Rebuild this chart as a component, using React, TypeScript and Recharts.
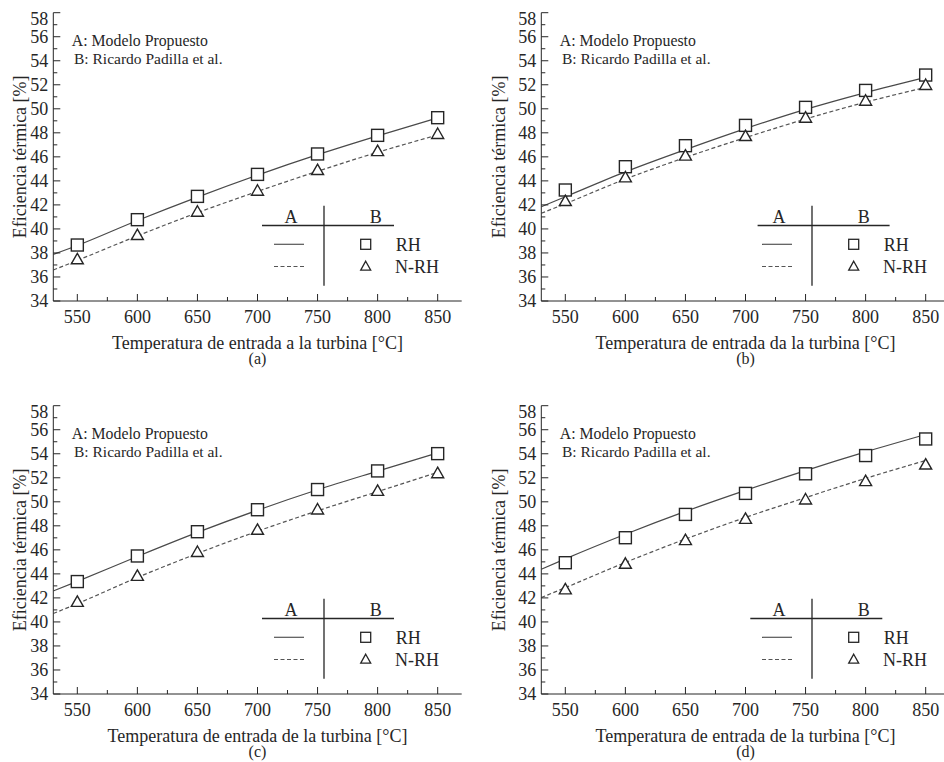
import React from 'react';
import { ComposedChart, Line, Scatter, XAxis, YAxis } from 'recharts';

// measured points (B: Ricardo Padilla et al.)
const temps = [550, 600, 650, 700, 750, 800, 850];
// model curves (A: Modelo Propuesto) start at the left edge of the plot
const curveTemps = [530, 550, 600, 650, 700, 750, 800, 850];

const xTicks = [550, 575, 600, 625, 650, 675, 700, 725, 750, 775, 800, 825, 850];
const xMajor = [550, 600, 650, 700, 750, 800, 850];
const yTicks = [34, 35, 36, 37, 38, 39, 40, 41, 42, 43, 44, 45, 46, 47, 48, 49, 50, 51, 52, 53, 54, 55, 56, 57, 58];
const yMajor = [34, 36, 38, 40, 42, 44, 46, 48, 50, 52, 54, 56, 58];

// (a)
const rhA = [38.66, 40.77, 42.71, 44.54, 46.24, 47.79, 49.26];
const nrhA = [37.47, 39.49, 41.43, 43.18, 44.9, 46.48, 47.9];
const modelRhA = [37.88, 38.62, 40.7, 42.65, 44.48, 46.18, 47.75, 49.25];
const modelNrhA = [36.58, 37.38, 39.42, 41.35, 43.12, 44.8, 46.38, 47.82];

// (b)
const rhB = [43.24, 45.18, 46.93, 48.62, 50.12, 51.53, 52.81];
const nrhB = [42.32, 44.29, 46.1, 47.73, 49.26, 50.67, 51.98];
const modelRhB = [41.85, 42.68, 44.75, 46.6, 48.35, 49.95, 51.35, 52.62];
const modelNrhB = [41.3, 42.1, 44.15, 45.95, 47.6, 49.15, 50.55, 51.78];

// (c)
const rhC = [43.36, 45.49, 47.51, 49.34, 51.02, 52.57, 54.01];
const nrhC = [41.67, 43.83, 45.82, 47.67, 49.36, 50.91, 52.38];
const modelRhC = [42.58, 43.38, 45.45, 47.45, 49.3, 51.0, 52.55, 54.07];
const modelNrhC = [40.7, 41.52, 43.7, 45.7, 47.55, 49.25, 50.85, 52.45];

// (d)
const rhD = [44.93, 47.01, 48.95, 50.7, 52.33, 53.85, 55.23];
const nrhD = [42.71, 44.84, 46.81, 48.58, 50.19, 51.72, 53.1];
const modelRhD = [44.38, 45.25, 47.3, 49.2, 50.95, 52.6, 54.15, 55.6];
const modelNrhD = [42.03, 42.85, 44.95, 46.9, 48.7, 50.35, 51.95, 53.44];

const xTitles = [
  'Temperatura de entrada a la turbina [°C]',
  'Temperatura de entrada da la turbina [°C]',
  'Temperatura de entrada de la turbina [°C]',
  'Temperatura de entrada de la turbina [°C]',
];
const tags = ['(a)', '(b)', '(c)', '(d)'];

const INK = '#262626';
const BOX_W = 470;
const BOX_H = 390;
const PLOT_L = 53.3;
const PLOT_T = 12.7;
const PLOT_W = 408.4;
const PLOT_H = 288.3;

const pairs = (xs: number[], ys: number[]) => xs.map((t, i) => ({ t, v: ys[i] }));

function BottomTick(props: any) {
  const { x, y, payload } = props;
  const major = xMajor.includes(payload.value);
  return (
    <g>
      <line x1={x} y1={y} x2={x} y2={y - (major ? 7 : 4)} stroke={INK} />
      {major && (
        <text x={x} y={y + 22} textAnchor="middle" fontSize={18} fill={INK}>
          {payload.value}
        </text>
      )}
    </g>
  );
}

function TopTick(props: any) {
  const { x, y, payload } = props;
  const major = xMajor.includes(payload.value);
  return <line x1={x} y1={y} x2={x} y2={y + (major ? 7 : 4)} stroke={INK} />;
}

function LeftTick(props: any) {
  const { x, y, payload } = props;
  const major = yMajor.includes(payload.value);
  // the top label is pushed down so it stays inside the figure
  const shift = payload.value === 58 ? 6 : 0;
  return (
    <g>
      <line x1={x} y1={y} x2={x + (major ? 7 : 4)} y2={y} stroke={INK} />
      {major && (
        <text x={x - 5} y={y + 6 + shift} textAnchor="end" fontSize={18} fill={INK}>
          {payload.value}
        </text>
      )}
    </g>
  );
}

function RightTick(props: any) {
  const { x, y, payload } = props;
  const major = yMajor.includes(payload.value);
  return <line x1={x} y1={y} x2={x - (major ? 7 : 4)} y2={y} stroke={INK} />;
}

function SquareMark(props: any) {
  const { cx, cy } = props;
  return <rect x={cx - 6} y={cy - 6} width={12} height={12} fill="#fff" stroke={INK} strokeWidth={1.4} />;
}

function TriangleMark(props: any) {
  const { cx, cy } = props;
  return (
    <path
      d={`M${cx},${cy - 6} L${cx + 6},${cy + 4.5} L${cx - 6},${cy + 4.5} Z`}
      fill="#fff"
      stroke={INK}
      strokeWidth={1.4}
    />
  );
}

type PanelProps = {
  left: number;
  top: number;
  rh: number[];
  nrh: number[];
  modelRh: number[];
  modelNrh: number[];
  xTitle: string;
  tag: string;
  hLineStart: number;
  yTitleDx: number;
};

function Panel({ left, top, rh, nrh, modelRh, modelNrh, xTitle, tag, hLineStart, yTitleDx }: PanelProps) {
  const L = PLOT_L;
  const T = PLOT_T;
  const B = PLOT_T + PLOT_H;
  return (
    <div style={{ position: 'absolute', left, top, width: BOX_W, height: BOX_H }}>
      <ComposedChart
        width={BOX_W}
        height={BOX_H}
        margin={{ top: PLOT_T, right: BOX_W - PLOT_L - PLOT_W, left: 0, bottom: BOX_H - B - 30 }}
      >
        <XAxis
          type="number"
          dataKey="t"
          domain={[530, 870]}
          ticks={xTicks}
          interval={0}
          allowDataOverflow
          height={30}
          tickSize={0}
          tickMargin={0}
          tickLine={false}
          axisLine={{ stroke: INK }}
          tick={<BottomTick />}
        />
        <XAxis
          xAxisId="top"
          orientation="top"
          type="number"
          dataKey="t"
          domain={[530, 870]}
          ticks={xTicks}
          interval={0}
          allowDataOverflow
          height={0}
          tickSize={0}
          tickMargin={0}
          tickLine={false}
          axisLine={{ stroke: INK }}
          tick={<TopTick />}
        />
        <YAxis
          type="number"
          domain={[34, 58]}
          ticks={yTicks}
          interval={0}
          allowDataOverflow
          width={PLOT_L}
          tickSize={0}
          tickMargin={0}
          tickLine={false}
          axisLine={{ stroke: INK }}
          tick={<LeftTick />}
        />
        <YAxis
          yAxisId="right"
          orientation="right"
          type="number"
          domain={[34, 58]}
          ticks={yTicks}
          interval={0}
          allowDataOverflow
          width={0}
          tickSize={0}
          tickMargin={0}
          tickLine={false}
          axisLine={{ stroke: INK }}
          tick={<RightTick />}
        />
        <Line
          data={pairs(curveTemps, modelRh)}
          dataKey="v"
          type="monotone"
          stroke="#4a4a4a"
          strokeWidth={1.2}
          dot={false}
          isAnimationActive={false}
        />
        <Line
          data={pairs(curveTemps, modelNrh)}
          dataKey="v"
          type="monotone"
          stroke="#555"
          strokeWidth={1.2}
          strokeDasharray="4 2.5"
          dot={false}
          isAnimationActive={false}
        />
        <Scatter data={pairs(temps, rh)} dataKey="v" shape={SquareMark} isAnimationActive={false} />
        <Scatter data={pairs(temps, nrh)} dataKey="v" shape={TriangleMark} isAnimationActive={false} />
      </ComposedChart>

      <svg
        width={BOX_W}
        height={BOX_H}
        style={{ position: 'absolute', left: 0, top: 0, pointerEvents: 'none' }}
      >
        <g fill={INK}>
          <text x={L + 18.5} y={T + 33} fontSize={15.8}>A: Modelo Propuesto</text>
          <text x={L + 20.7} y={T + 51} fontSize={15.5}>B: Ricardo Padilla et al.</text>

          <text x={L + 237.7} y={T + 210} fontSize={18} textAnchor="middle">A</text>
          <text x={L + 322.4} y={T + 210} fontSize={18} textAnchor="middle">B</text>
          <line x1={L + hLineStart} x2={L + hLineStart + 132} y1={T + 212.8} y2={T + 212.8} stroke={INK} strokeWidth={1.3} />
          <line x1={L + 270.7} x2={L + 270.7} y1={T + 193} y2={T + 273} stroke={INK} strokeWidth={1.3} />
          <line x1={L + 220.7} x2={L + 250.7} y1={T + 231.6} y2={T + 231.6} stroke="#555" strokeWidth={1.2} />
          <line x1={L + 220.7} x2={L + 250.7} y1={T + 253.8} y2={T + 253.8} stroke="#555" strokeWidth={1.2} strokeDasharray="4 2.5" />
          <rect x={L + 312.4 - 5} y={T + 231.6 - 5} width={10} height={10} fill="#fff" stroke={INK} strokeWidth={1.3} />
          <path
            d={`M${L + 312.4},${T + 248.5} L${L + 317.4},${T + 257.5} L${L + 307.4},${T + 257.5} Z`}
            fill="#fff"
            stroke={INK}
            strokeWidth={1.3}
          />
          <text x={L + 342.4} y={T + 238} fontSize={18}>RH</text>
          <text x={L + 341.7} y={T + 260} fontSize={18}>N-RH</text>

          <text x={L + PLOT_W / 2} y={B + 48} fontSize={18} textAnchor="middle">{xTitle}</text>
          <text x={L + PLOT_W / 2} y={B + 63} fontSize={16} textAnchor="middle">{tag}</text>
          <text
            x={0}
            y={0}
            fontSize={18}
            textAnchor="middle"
            transform={`translate(${L + yTitleDx}, ${T + PLOT_H / 2}) rotate(-90)`}
            dy={6}
          >
            Eficiencia térmica [%]
          </text>
        </g>
      </svg>
    </div>
  );
}

export default function App() {
  return (
    <div
      style={{
        position: 'absolute',
        left: 0,
        top: 0,
        width: 944,
        height: 762,
        overflow: 'hidden',
        background: '#fff',
        fontFamily: '"Liberation Serif", "Times New Roman", serif',
      }}
    >
      <Panel left={0} top={0} rh={rhA} nrh={nrhA} modelRh={modelRhA} modelNrh={modelNrhA} xTitle={xTitles[0]} tag={tags[0]} hLineStart={208.7} yTitleDx={-33.3} />
      <Panel left={487.7} top={0} rh={rhB} nrh={nrhB} modelRh={modelRhB} modelNrh={modelNrhB} xTitle={xTitles[1]} tag={tags[1]} hLineStart={216.3} yTitleDx={-42.7} />
      <Panel left={0} top={393.3} rh={rhC} nrh={nrhC} modelRh={modelRhC} modelNrh={modelNrhC} xTitle={xTitles[2]} tag={tags[2]} hLineStart={208.7} yTitleDx={-33.3} />
      <Panel left={487.7} top={393.3} rh={rhD} nrh={nrhD} modelRh={modelRhD} modelNrh={modelNrhD} xTitle={xTitles[3]} tag={tags[3]} hLineStart={209} yTitleDx={-42.7} />
    </div>
  );
}
